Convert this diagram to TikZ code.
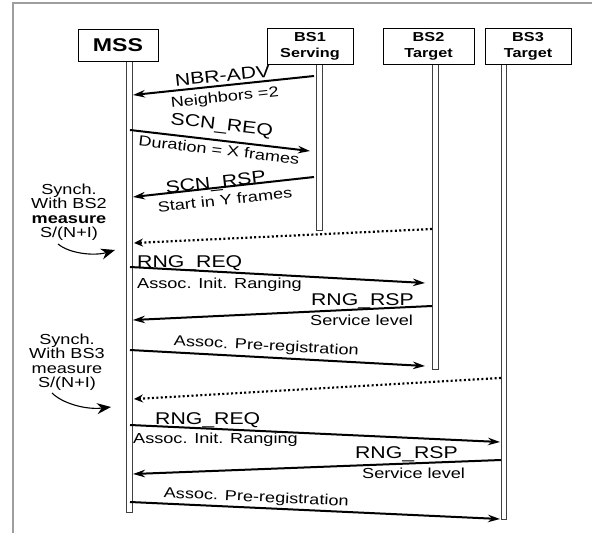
\documentclass[tikz,border=0pt]{standalone}
\usepackage{fontspec}
\setmainfont{Liberation Sans}[FakeStretch=1.25]
\usetikzlibrary{arrows.meta}
\begin{document}
\begin{tikzpicture}[x=1pt,y=-1pt,
  actorbox/.style={draw=black, line width=0.9pt, fill=white, inner sep=0pt, align=center},
  boxlab/.style={font=\fontsize{13}{16}\selectfont\bfseries},
  lifeline/.style={draw=black!75, line width=0.9pt, fill=white},
  msg/.style={line width=2pt, -{Stealth[length=12pt,width=7.5pt]}},
  dotmsg/.style={line width=2.2pt, dash pattern=on 2pt off 2.4pt, -{Stealth[length=9pt,width=8pt]}},
  msgname/.style={font=\fontsize{17}{19}\selectfont, inner sep=0pt},
  lbl/.style={font=\fontsize{14.5}{16}\selectfont, inner sep=0pt},
  synchnote/.style={align=center, font=\fontsize{14.5}{14.5}\selectfont, inner sep=0pt},
  curvearrow/.style={line width=1.1pt, -{Stealth[length=14pt,width=11pt]}},
]
\useasboundingbox (0,0) rectangle (592,533);
% frame
\draw[black!38, line width=1.4pt] (13,533) -- (13,3) -- (592,3);

% lifelines
\draw[lifeline] (126,60) rectangle (132,512);
\draw[lifeline] (316,63) rectangle (322,230);
\draw[lifeline] (432,63) rectangle (438,369);
\draw[lifeline] (501,63) rectangle (506,519);

% actor boxes
\node[actorbox, minimum width=80pt, minimum height=32pt, font=\fontsize{18.5}{20}\selectfont\bfseries] (mss) at (118,45) {MSS};
\node[actorbox, boxlab, minimum width=86pt, minimum height=36pt] (bs1) at (310,46) {BS1\\Serving};
\node[actorbox, boxlab, minimum width=91pt, minimum height=36pt] (bs2) at (428.5,46) {BS2\\Target};
\node[actorbox, boxlab, minimum width=86pt, minimum height=36pt] (bs3) at (528,46) {BS3\\Target};

% coordinates on lifelines
\coordinate (a1s) at (314,76);  \coordinate (a1e) at (133,95);
\coordinate (a2s) at (130,130); \coordinate (a2e) at (310,151);
\coordinate (a3s) at (314,177); \coordinate (a3e) at (133,197);
\coordinate (d1s) at (432,229); \coordinate (d1e) at (134,243);
\coordinate (a4s) at (130,267); \coordinate (a4e) at (425,283);
\coordinate (a5s) at (432,306); \coordinate (a5e) at (133,320);
\coordinate (a6s) at (130,350); \coordinate (a6e) at (425,366);
\coordinate (d2s) at (501,378); \coordinate (d2e) at (134,399);
\coordinate (a7s) at (130,425); \coordinate (a7e) at (500,442);
\coordinate (a8s) at (501,460); \coordinate (a8e) at (133,474);
\coordinate (a9s) at (130,502); \coordinate (a9e) at (500,519);

% messages
\draw[msg] (a1s) -- node[pos=0.5, sloped, above=3pt, msgname] (l1a) {NBR-ADV}
                    node[pos=0.5, sloped, below=5pt, lbl] (l1b) {Neighbors =2} (a1e);
\draw[msg] (a2s) -- node[pos=0.5, sloped, above=6pt, msgname] (l2a) {SCN\_REQ}
                    node[pos=0.5, sloped, below=3pt, lbl] (l2b) {Duration = X frames} (a2e);
\draw[msg] (a3s) -- node[pos=0.54, sloped, anchor=base, msgname] (l3a) {SCN\_RSP}
                    node[pos=0.5, sloped, below=6.5pt, lbl] (l3b) {Start in Y frames} (a3e);
\draw[dotmsg] (d1s) -- (d1e);

\draw[msg] (a4s) -- (a4e);
\node[msgname, anchor=base west] (l4a) at (137,267) {RNG\_REQ};
\node[lbl, anchor=base west] (l4b) at (137,288) {Assoc. Init. Ranging};

\draw[msg] (a5s) -- (a5e);
\node[msgname, anchor=base east] (l5a) at (414,305) {RNG\_RSP};
\node[lbl, anchor=base west] (l5b) at (310,325) {Service level};

\draw[msg] (a6s) -- node[pos=0.46, sloped, above=3pt, lbl] (l6) {Assoc. Pre-registration} (a6e);
\draw[dotmsg] (d2s) -- (d2e);

\draw[msg] (a7s) -- (a7e);
\node[msgname, anchor=base west] (l7a) at (155,424) {RNG\_REQ};
\node[lbl, anchor=base west] (l7b) at (133,443) {Assoc. Init. Ranging};

\draw[msg] (a8s) -- (a8e);
\node[msgname, anchor=base east] (l8a) at (458,458) {RNG\_RSP};
\node[lbl, anchor=base west] (l8b) at (362,478) {Service level};

\draw[msg] (a9s) -- node[pos=0.34, sloped, above=2pt, lbl] (l9) {Assoc. Pre-registration} (a9e);

% synch notes
\node[synchnote] (n1) at (69,212) {Synch.\\With BS2\\\textbf{measure}\\S/(N+I)};
\node[synchnote] (n2) at (67,362) {Synch.\\With BS3\\measure\\S/(N+I)};
\coordinate (c1s) at (58,244); \coordinate (c1e) at (115,250);
\coordinate (c2s) at (52,393); \coordinate (c2e) at (111,407);
\draw[curvearrow] (c1s) .. controls (70,254) and (95,256) .. (c1e);
\draw[curvearrow] (c2s) .. controls (62,403) and (85,410) .. (c2e);
\end{tikzpicture}
\end{document}
